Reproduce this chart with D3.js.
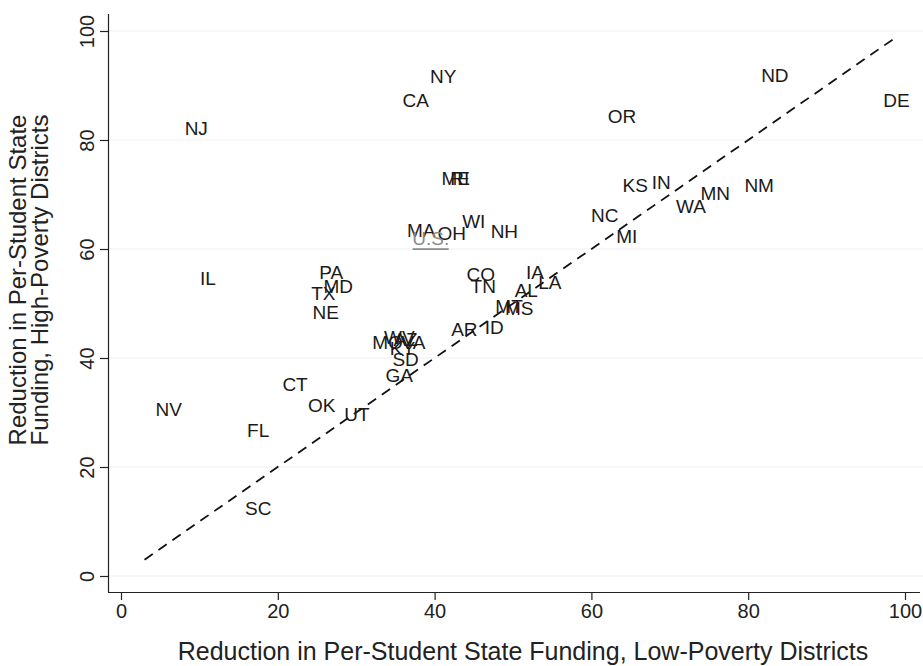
<!DOCTYPE html>
<html>
<head>
<meta charset="utf-8">
<script src="https://cdn.jsdelivr.net/npm/d3@7"></script>
<style>
  html, body { margin: 0; padding: 0; background: #fff; }
  svg { display: block; }
  text { font-family: "Liberation Sans", Arial, Helvetica, sans-serif; }
</style>
</head>
<body>
<svg id="chart" width="923" height="666"></svg>
<script>
// State abbreviations and their reductions (%) in per-student state funding
const states = ["NY","CA","NJ","ND","DE","OR","ME","RI","KS","IN","WA","MN","NM","NC","MI",
  "WI","NH","MA","OH","IL","PA","MD","TX","NE","CO","TN","IA","LA","AL","MT","MS","AR","ID",
  "MO","WV","AZ","VA","KY","SD","GA","CT","OK","UT","NV","FL","SC"];
const lowPoverty = [41.1,37.6,9.6,83.4,98.9,63.9,42.7,43.2,65.6,68.9,72.7,75.8,81.4,61.7,64.5,
  45.0,48.9,38.3,42.2,11.1,26.8,27.7,25.8,26.1,45.9,46.2,52.8,54.7,51.7,49.5,50.8,43.8,47.6,
  34.0,35.5,36.3,37.3,35.9,36.3,35.5,22.2,25.6,30.1,6.1,17.5,17.5];
const highPoverty = [91.7,87.3,82.2,91.9,87.2,84.4,73.0,73.0,71.6,72.3,67.9,70.3,71.6,66.1,62.4,
  65.1,63.3,63.5,62.9,54.7,55.8,53.2,51.9,48.3,55.4,53.2,55.8,53.9,52.5,49.4,49.2,45.3,45.7,
  42.9,43.7,43.4,42.9,41.7,39.8,36.8,35.2,31.4,29.7,30.6,26.8,12.5];
const national = { label: "U.S.", low: 39.5, high: 62.0 };
const xTicks = [0, 20, 40, 60, 80, 100];
const yTicks = [0, 20, 40, 60, 80, 100];
const equalityLine = [3, 98.5];

const svg = d3.select("#chart");
const x = d3.scaleLinear().domain([0, 100]).range([121, 905]);
const y = d3.scaleLinear().domain([0, 100]).range([576, 31]);
const axisColor = "#222";

// horizontal gridlines
svg.append("g").selectAll("line").data(yTicks).join("line")
  .attr("x1", 109).attr("x2", 923)
  .attr("y1", d => y(d)).attr("y2", d => y(d))
  .attr("stroke", "#efefef").attr("stroke-width", 1.2);

// x axis
const xAxis = svg.append("g").attr("transform", "translate(0,592)")
  .call(d3.axisBottom(x).tickValues(xTicks).tickSize(8).tickSizeOuter(0).tickPadding(4));
xAxis.select(".domain").attr("d", "M108,0.5H920").attr("stroke", axisColor).attr("stroke-width", 1.2);
xAxis.selectAll(".tick line").attr("stroke", axisColor).attr("stroke-width", 1.2);
xAxis.selectAll(".tick text").attr("font-size", 20).attr("fill", "#222");

// y axis
const yAxis = svg.append("g").attr("transform", "translate(108,0)")
  .call(d3.axisLeft(y).tickValues(yTicks).tickSize(8).tickSizeOuter(0));
yAxis.select(".domain").attr("d", "M0.5,14V592").attr("stroke", axisColor).attr("stroke-width", 1.2);
yAxis.selectAll(".tick line").attr("stroke", axisColor).attr("stroke-width", 1.2);
yAxis.selectAll(".tick text")
  .attr("font-size", 20).attr("fill", "#222")
  .attr("x", 0).attr("dy", 0)
  .attr("text-anchor", "middle")
  .attr("transform", "translate(-14,0) rotate(-90)");

// axis titles
svg.append("text")
  .attr("x", 523).attr("y", 660)
  .attr("text-anchor", "middle").attr("font-size", 25).attr("fill", "#222")
  .text("Reduction in Per-Student State Funding, Low-Poverty Districts");
const yTitle = svg.append("text")
  .attr("transform", "translate(0,280) rotate(-90)")
  .attr("text-anchor", "middle").attr("font-size", 24).attr("fill", "#222");
yTitle.append("tspan").attr("x", 0).attr("y", 26).text("Reduction in Per-Student State");
yTitle.append("tspan").attr("x", 0).attr("y", 48).text("Funding, High-Poverty Districts");

// 45-degree equality line
svg.append("line")
  .attr("x1", x(equalityLine[0])).attr("y1", y(equalityLine[0]))
  .attr("x2", x(equalityLine[1])).attr("y2", y(equalityLine[1]))
  .attr("stroke", "#111").attr("stroke-width", 1.8)
  .attr("stroke-dasharray", "10,7");

// state labels centred on their data points
svg.append("g").selectAll("text").data(states).join("text")
  .attr("x", (d, i) => x(lowPoverty[i]))
  .attr("y", (d, i) => y(highPoverty[i]))
  .attr("text-anchor", "middle").attr("dy", "0.35em")
  .attr("font-size", 19).attr("fill", "#1a1a1a")
  .text(d => d);

// national average, underlined in gray
const us = svg.append("g");
us.append("text")
  .attr("x", x(national.low)).attr("y", y(national.high))
  .attr("text-anchor", "middle").attr("dy", "0.35em")
  .attr("font-size", 19).attr("fill", "#8a8a8a")
  .text(national.label);
us.append("line")
  .attr("x1", x(national.low) - 18).attr("x2", x(national.low) + 18)
  .attr("y1", y(national.high) + 11).attr("y2", y(national.high) + 11)
  .attr("stroke", "#8a8a8a").attr("stroke-width", 1.8);
</script>
</body>
</html>
